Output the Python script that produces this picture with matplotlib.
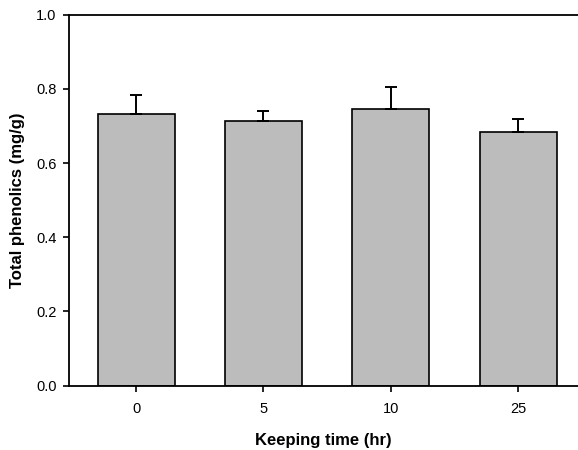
import matplotlib
matplotlib.use("Agg")
import matplotlib.pyplot as plt

categories = ["0", "5", "10", "25"]
means = [0.733, 0.712, 0.745, 0.685]
errors = [0.050, 0.029, 0.060, 0.033]

plt.rcParams['font.family'] = ['Liberation Sans', 'DejaVu Sans']

fig = plt.figure(figsize=(5.78, 4.5), dpi=100)
ax = fig.add_axes([69/578, 64.5/450, 509/578, 370.8/450])

x = range(len(categories))
ax.bar(x, means, width=0.605, color='#bcbcbc', edgecolor='black', linewidth=1.2,
       yerr=[[0]*len(errors), errors], capsize=4.5,
       error_kw=dict(ecolor='black', elinewidth=1.4, capthick=1.4), zorder=2)

ax.set_xlim(-0.527, 3.47)
ax.set_ylim(0, 1.0)
ax.set_yticks([0.0, 0.2, 0.4, 0.6, 0.8, 1.0])
ax.set_yticklabels(["0.0", "0.2", "0.4", "0.6", "0.8", "1.0"])
ax.set_xticks(list(x))
ax.set_xticklabels(categories)
ax.tick_params(axis='both', direction='out', length=4, width=1.2, labelsize=10.5, colors='black')
ax.tick_params(axis='x', pad=8)
ax.tick_params(axis='y', pad=5)
ax.spines['right'].set_visible(False)
for s in ['left', 'bottom', 'top']:
    ax.spines[s].set_linewidth(1.3)

ax.set_ylabel("Total phenolics (mg/g)", fontsize=12, fontweight='bold', labelpad=8)
ax.set_xlabel("Keeping time (hr)", fontsize=12, fontweight='bold', labelpad=12)

fig.savefig("out.png", dpi=100)
